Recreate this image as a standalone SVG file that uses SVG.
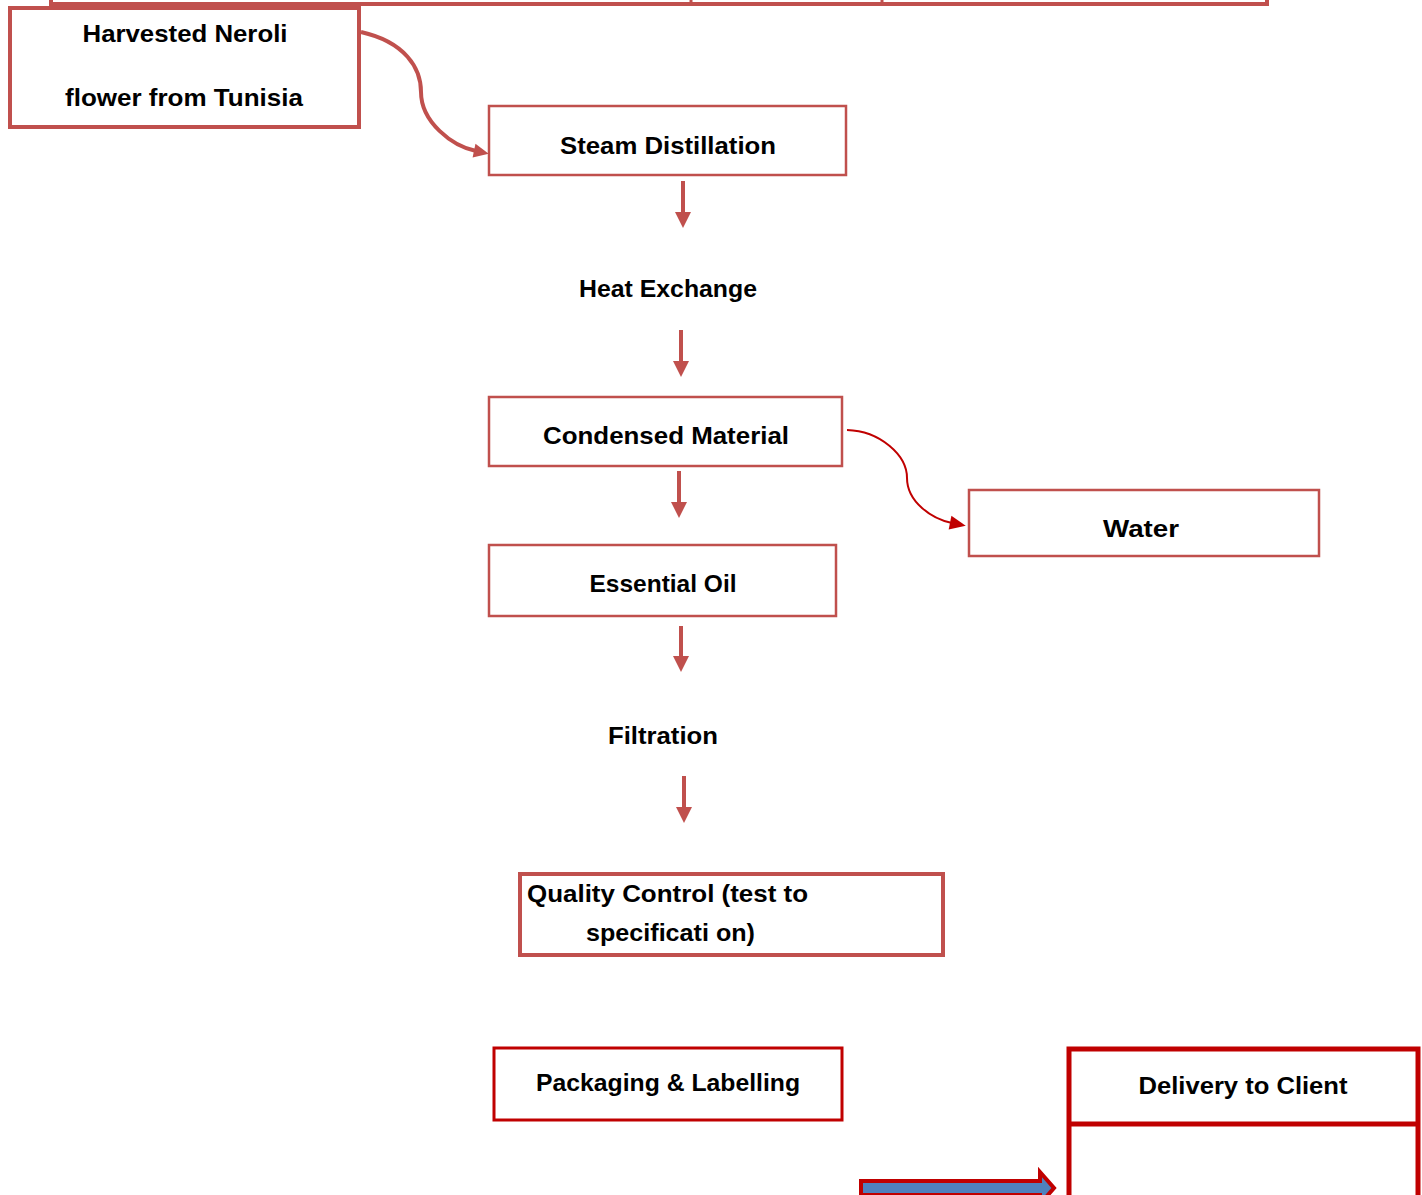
<svg xmlns="http://www.w3.org/2000/svg" width="1422" height="1195" viewBox="0 0 1422 1195">
<style>
.box{fill:#fff;stroke:#c0504d;stroke-width:2.5}
.boxd{fill:#fff;stroke:#c00000;stroke-width:3}
.t{font-family:"Liberation Sans",Arial,sans-serif;font-weight:bold;font-size:24px;fill:#000}
.c{text-anchor:middle}
.arr{stroke:#c0504d;stroke-width:4;fill:none}
</style>
<defs>
<marker id="ahc" markerUnits="userSpaceOnUse" markerWidth="16" markerHeight="16" viewBox="0 0 16 16" refX="2" refY="7" orient="auto" overflow="visible">
<path d="M0,0 L15,7 L0,14 Z" fill="#c0504d"/>
</marker>
<marker id="ahw" markerUnits="userSpaceOnUse" markerWidth="16" markerHeight="16" viewBox="0 0 16 16" refX="2" refY="7" orient="auto" overflow="visible">
<path d="M0,0 L16,7 L0,14 Z" fill="#c00000"/>
</marker>
</defs>

<g id="top-table">
<rect x="51" y="-20" width="1216" height="24" fill="#fff" stroke="#c0504d" stroke-width="4"/>
<line x1="691" y1="-20" x2="691" y2="4" stroke="#c0504d" stroke-width="3"/>
<line x1="882" y1="-20" x2="882" y2="4" stroke="#c0504d" stroke-width="3"/>
</g>

<g id="connectors">
<path d="M361,32 C405,42 421,68 421,92 C421,122 452,146 476,151" stroke="#c0504d" stroke-width="4" fill="none" marker-end="url(#ahc)"/>
<line x1="683" y1="181" x2="683" y2="213" class="arr"/><path d="M675,212 L691,212 L683,228 Z" fill="#c0504d"/>
<line x1="681" y1="330" x2="681" y2="362" class="arr"/><path d="M673,361 L689,361 L681,377 Z" fill="#c0504d"/>
<line x1="679" y1="471" x2="679" y2="503" class="arr"/><path d="M671,502 L687,502 L679,518 Z" fill="#c0504d"/>
<line x1="681" y1="626" x2="681" y2="657" class="arr"/><path d="M673,656 L689,656 L681,672 Z" fill="#c0504d"/>
<line x1="684" y1="776" x2="684" y2="808" class="arr"/><path d="M676,807 L692,807 L684,823 Z" fill="#c0504d"/>
<path d="M847,430 C880,431 907,455 907,478 C907,502 932,519 952,523" stroke="#c00000" stroke-width="2" fill="none" marker-end="url(#ahw)"/>
<path d="M861,1181 L1040,1181 L1040,1172 L1054,1188 L1040,1204 L1040,1195 L861,1195 Z" fill="#4f81bd" stroke="#c00000" stroke-width="4" stroke-linejoin="miter"/>
</g>

<g id="harvested">
<rect x="10" y="8" width="349" height="119" fill="#fff" stroke="#c0504d" stroke-width="4"/>
<text class="t c" x="185" y="42" textLength="205" lengthAdjust="spacingAndGlyphs">Harvested Neroli</text>
<text class="t c" x="184" y="106" textLength="238" lengthAdjust="spacingAndGlyphs">flower from Tunisia</text>
</g>

<g id="steam">
<rect class="box" x="489" y="106" width="357" height="69"/>
<text class="t c" x="668" y="154" textLength="216" lengthAdjust="spacingAndGlyphs">Steam Distillation</text>
</g>

<g id="heat">
<text class="t c" x="668" y="297" textLength="178" lengthAdjust="spacingAndGlyphs">Heat Exchange</text>
</g>

<g id="condensed">
<rect class="box" x="489" y="397" width="353" height="69"/>
<text class="t c" x="666" y="444" textLength="246" lengthAdjust="spacingAndGlyphs">Condensed Material</text>
</g>

<g id="water">
<rect class="box" x="969" y="490" width="350" height="66"/>
<text class="t c" x="1141" y="537" textLength="76" lengthAdjust="spacingAndGlyphs">Water</text>
</g>

<g id="essential">
<rect class="box" x="489" y="545" width="347" height="71"/>
<text class="t c" x="663" y="592" textLength="147" lengthAdjust="spacingAndGlyphs">Essential Oil</text>
</g>

<g id="filtration">
<text class="t c" x="663" y="744" textLength="110" lengthAdjust="spacingAndGlyphs">Filtration</text>
</g>

<g id="quality">
<rect x="520" y="874" width="423" height="81" fill="#fff" stroke="#c0504d" stroke-width="4"/>
<text class="t" x="527" y="902" textLength="281" lengthAdjust="spacingAndGlyphs">Quality Control (test to</text>
<text class="t" x="586" y="941" textLength="169" lengthAdjust="spacingAndGlyphs">specificati on)</text>
</g>

<g id="packaging">
<rect class="boxd" x="494" y="1048" width="348" height="72"/>
<text class="t c" x="668" y="1091" textLength="264" lengthAdjust="spacingAndGlyphs">Packaging &amp; Labelling</text>
</g>

<g id="delivery">
<rect x="1069" y="1049" width="349" height="200" fill="#fff" stroke="#c00000" stroke-width="5"/>
<line x1="1069" y1="1124" x2="1418" y2="1124" stroke="#c00000" stroke-width="5"/>
<text class="t c" x="1243" y="1094" textLength="209" lengthAdjust="spacingAndGlyphs">Delivery to Client</text>
</g>
</svg>
